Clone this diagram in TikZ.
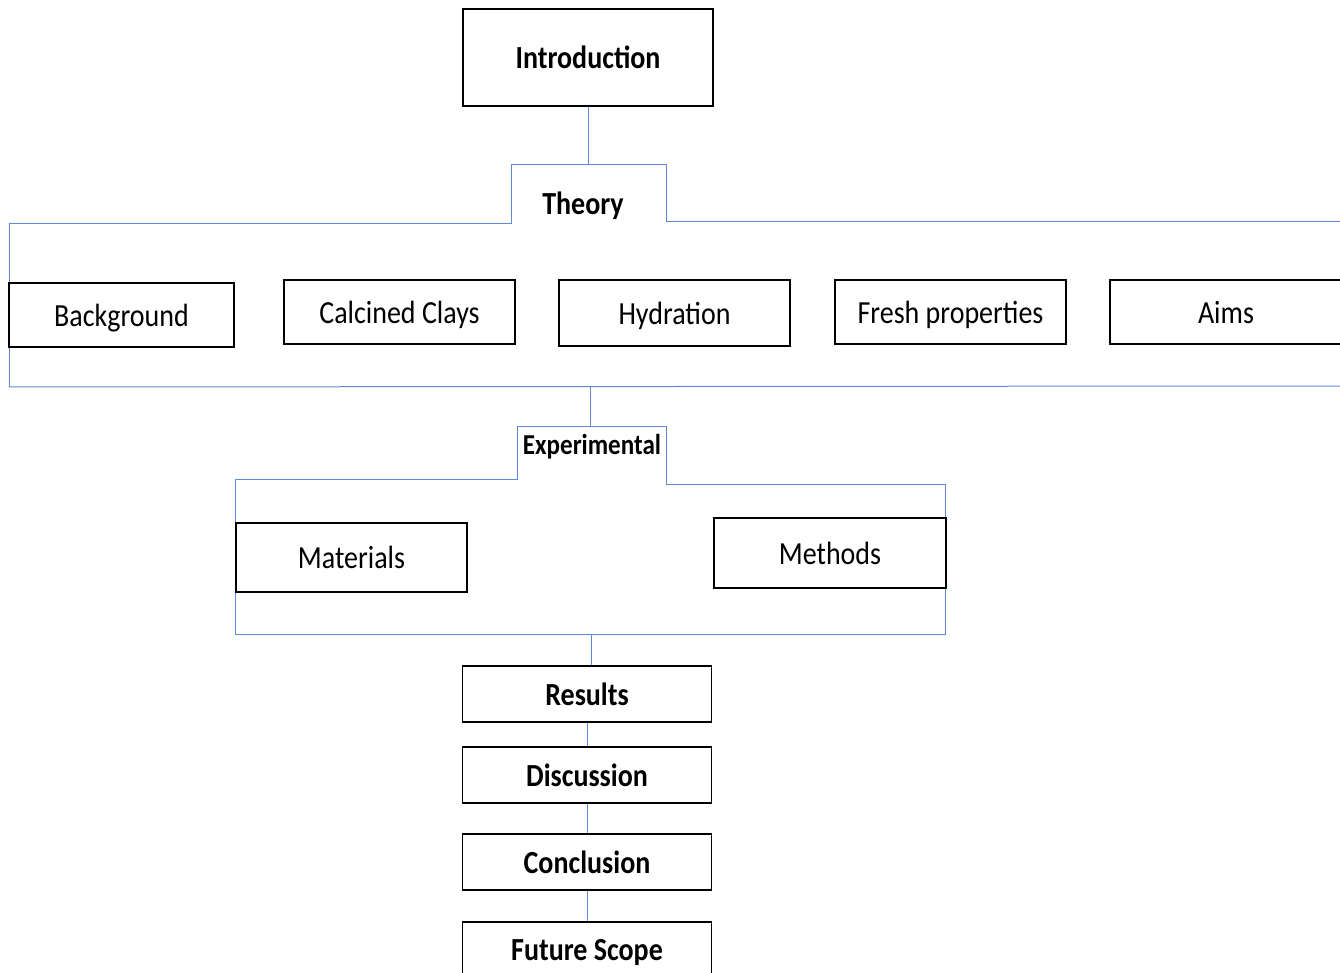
\documentclass[tikz,border=0pt]{standalone}
\usepackage{fontspec}
\usepackage{graphicx}
\setmainfont{Carlito}
\definecolor{lineblue}{RGB}{98,138,212}
\newcommand{\tx}[1]{\raisebox{0pt}[\height][0pt]{\scalebox{1}[1.15]{#1}}}
\tikzset{
  box/.style={draw=black, line width=1.1pt, inner sep=0pt, fill=white,
    font=\fontsize{21}{25}\selectfont},
  boldbox/.style={box, font=\fontsize{21}{25}\selectfont\bfseries},
  tab/.style={inner sep=0pt, font=\fontsize{21}{25}\selectfont\bfseries},
  smalltab/.style={inner sep=0pt, font=\fontsize{18.8}{22}\selectfont\bfseries},
  blue line/.style={draw=lineblue, line width=0.75pt},
}
\begin{document}
\begin{tikzpicture}[x=0.75pt,y=-0.75pt]
\useasboundingbox (0,0) rectangle (1340,973);
% blue outlines (drawn first)
\draw[blue line] (9,387) -- (9,224) -- (511,224) -- (511,165) -- (666,165) -- (666,222) -- (1345,222);
\draw[blue line] (9,387) -- (1345,386);
\draw[blue line] (235,635) -- (235,480) -- (517,480) -- (517,427) -- (666,427) -- (666,485) -- (945,485) -- (945,635) -- cycle;
% coordinates on the outlines
\coordinate (thtop) at (588,165);
\coordinate (thbot) at (590,387);
\coordinate (extop) at (590,427);
\coordinate (exbot) at (591,635);
% nodes
\node[boldbox, minimum width=187.5pt, minimum height=72.75pt] (intro) at (588,57.5) {\tx{Introduction}};
\node[tab] (theory) at (583,203) {\tx{Theory}};
\node[box, minimum width=168.75pt, minimum height=48pt] (background) at (121.5,315) {\tx{Background}};
\node[box, minimum width=173.25pt, minimum height=48pt] (calcined) at (399.5,312) {\tx{Calcined Clays}};
\node[box, minimum width=173.25pt, minimum height=49.5pt] (hydration) at (674.5,313) {\tx{Hydration}};
\node[box, minimum width=173.25pt, minimum height=48pt] (fresh) at (950.5,312) {\tx{Fresh properties}};
\node[box, minimum width=174pt, minimum height=48pt] (aims) at (1226,312) {\tx{Aims}};
\node[smalltab] (experimental) at (592,444) {\tx{Experimental}};
\node[box, minimum width=173.25pt, minimum height=51.75pt] (materials) at (351.5,557.5) {\tx{Materials}};
\node[box, minimum width=174pt, minimum height=52.5pt] (methods) at (830,553) {\tx{Methods}};
\node[boldbox, minimum width=186.75pt, minimum height=42pt] (results) at (587,694) {\tx{Results}};
\node[boldbox, minimum width=186.75pt, minimum height=42pt] (discussion) at (587,775) {\tx{Discussion}};
\node[boldbox, minimum width=186.75pt, minimum height=42pt] (conclusion) at (587,862) {\tx{Conclusion}};
\node[boldbox, minimum width=186.75pt, minimum height=42pt] (future) at (587,950) {\tx{Future Scope}};
% connectors
\draw[blue line] (intro.south) -- (thtop);
\draw[blue line] (thbot) -- (extop);
\draw[blue line] (exbot) -- (exbot |- results.north);
\draw[blue line] (results.south) -- (discussion.north);
\draw[blue line] (discussion.south) -- (conclusion.north);
\draw[blue line] (conclusion.south) -- (future.north);
\end{tikzpicture}
\end{document}
